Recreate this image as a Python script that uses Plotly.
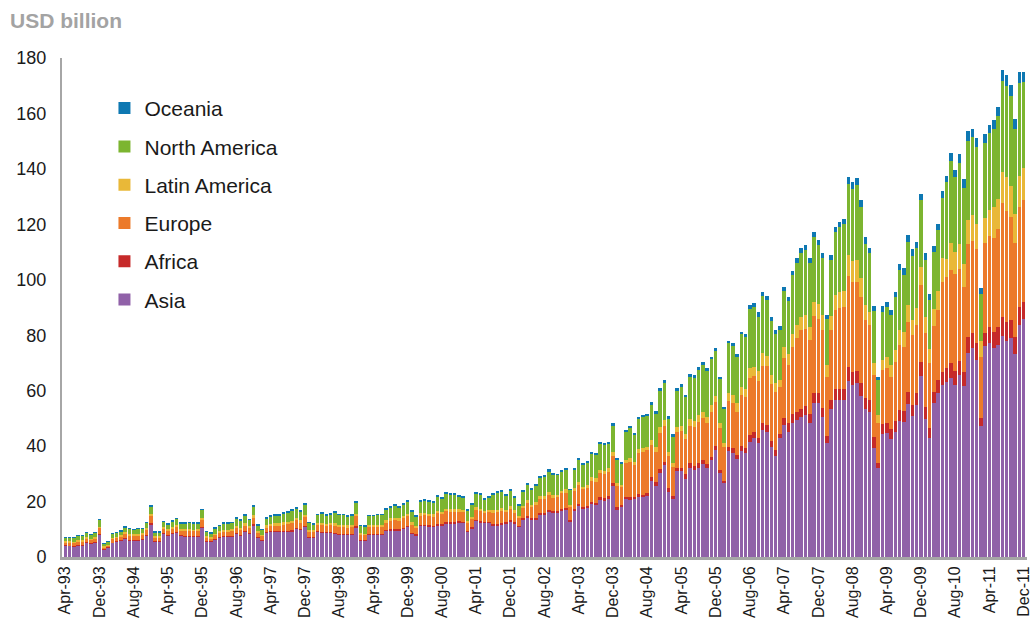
import plotly.graph_objects as go
import pandas as pd

# Monthly categories Apr-93 .. Dec-11 (225 months)
months = list(pd.date_range("1993-04-01", periods=225, freq="MS").strftime("%b-%y"))
tick_labels = months[::8]

asia = [
    4.1, 4.0, 3.8, 4.2, 4.1, 5.2, 4.8, 5.2, 8.1, 2.8,
    3.4, 5.1, 5.5, 5.8, 6.6, 6.1, 6.1, 6.1, 6.4, 7.9,
    11.8, 5.5, 5.5, 8.5, 7.9, 8.3, 8.8, 7.6, 7.3, 7.3,
    7.3, 7.3, 10.7, 5.5, 5.5, 6.3, 7.0, 7.3, 7.3, 7.3,
    8.5, 7.6, 9.1, 8.5, 11.5, 7.0, 6.1, 8.8, 9.1, 9.1,
    9.1, 9.1, 9.1, 9.3, 10.3, 9.9, 11.0, 7.1, 7.1, 9.1,
    8.9, 8.9, 8.9, 8.5, 8.1, 8.1, 8.1, 8.1, 10.7, 5.9,
    5.9, 8.1, 8.1, 8.1, 8.1, 9.5, 9.7, 9.7, 9.7, 10.3,
    10.9, 8.5, 7.9, 11.2, 11.2, 11.0, 10.9, 11.5, 11.5, 12.1,
    12.1, 12.1, 12.4, 12.4, 9.1, 10.3, 13.0, 12.4, 12.4, 12.4,
    11.5, 11.5, 11.8, 12.1, 12.8, 12.2, 10.9, 13.4, 14.3, 13.4,
    13.6, 15.2, 15.2, 16.3, 15.7, 16.0, 16.6, 17.0, 12.7, 16.6,
    18.4, 17.6, 17.8, 19.1, 18.8, 20.6, 20.3, 21.0, 25.6, 17.2,
    17.9, 20.8, 20.6, 20.8, 21.8, 21.5, 22.0, 27.5, 25.7, 30.4,
    33.2, 23.6, 20.9, 31.0, 31.0, 28.3, 32.2, 31.4, 32.2, 33.5,
    32.0, 35.0, 38.6, 30.2, 26.6, 38.4, 37.4, 35.2, 38.4, 37.4,
    41.6, 42.8, 41.0, 45.8, 45.2, 39.6, 36.4, 42.8, 47.6, 45.2,
    48.5, 49.4, 50.4, 51.2, 48.5, 55.7, 55.7, 50.4, 41.0, 53.4,
    56.6, 56.6, 56.6, 63.6, 62.0, 62.7, 58.1, 53.3, 52.4, 39.2,
    32.0, 44.4, 44.9, 42.5, 45.2, 49.2, 48.8, 55.2, 50.9, 54.8,
    65.3, 49.7, 42.8, 55.4, 59.3, 62.1, 63.0, 64.5, 62.0, 65.6,
    61.7, 73.5, 75.3, 71.1, 47.3, 76.1, 77.3, 75.3, 76.5, 79.7,
    78.0, 78.9, 73.2, 83.7, 85.7]

africa = [
    0.1, 0.1, 0.1, 0.2, 0.2, 0.2, 0.1, 0.2, 0.2, 0.1,
    0.1, 0.1, 0.2, 0.2, 0.2, 0.2, 0.2, 0.2, 0.2, 0.2,
    0.3, 0.2, 0.2, 0.2, 0.2, 0.2, 0.2, 0.2, 0.2, 0.2,
    0.2, 0.2, 0.3, 0.2, 0.1, 0.2, 0.2, 0.2, 0.2, 0.2,
    0.2, 0.2, 0.2, 0.2, 0.3, 0.2, 0.2, 0.2, 0.2, 0.2,
    0.2, 0.3, 0.3, 0.3, 0.3, 0.3, 0.3, 0.2, 0.2, 0.2,
    0.3, 0.3, 0.3, 0.3, 0.3, 0.3, 0.3, 0.3, 0.4, 0.2,
    0.2, 0.3, 0.3, 0.3, 0.3, 0.3, 0.3, 0.3, 0.3, 0.3,
    0.4, 0.3, 0.3, 0.4, 0.4, 0.4, 0.4, 0.5, 0.4, 0.5,
    0.5, 0.5, 0.5, 0.4, 0.4, 0.4, 0.5, 0.5, 0.4, 0.4,
    0.5, 0.5, 0.5, 0.5, 0.5, 0.4, 0.4, 0.5, 0.6, 0.5,
    0.6, 0.6, 0.6, 0.7, 0.9, 0.6, 0.6, 0.6, 0.7, 0.6,
    0.7, 0.6, 0.6, 0.9, 0.8, 0.9, 0.9, 1.0, 1.0, 0.7,
    0.9, 1.0, 0.9, 1.0, 0.9, 0.9, 1.0, 1.2, 1.5, 1.3,
    1.2, 1.2, 1.1, 1.2, 1.2, 1.6, 1.6, 1.4, 1.6, 1.5,
    1.5, 1.2, 1.4, 1.2, 0.9, 1.4, 1.8, 1.6, 1.6, 1.8,
    2.4, 2.4, 2.0, 2.4, 2.4, 2.4, 2.2, 1.6, 2.7, 3.0,
    3.1, 3.0, 2.9, 3.3, 3.1, 3.4, 3.4, 3.2, 2.7, 3.2,
    4.1, 4.1, 4.1, 4.8, 4.9, 4.5, 4.6, 3.9, 4.2, 4.0,
    2.0, 3.6, 3.6, 3.6, 4.0, 3.8, 4.0, 4.4, 3.9, 4.2,
    5.2, 4.5, 3.6, 4.2, 4.6, 4.8, 5.0, 5.4, 5.2, 5.2,
    5.2, 5.8, 5.4, 6.0, 2.7, 4.8, 5.8, 6.0, 6.3, 7.0,
    6.9, 6.6, 6.3, 6.4, 6.4]

europe = [
    1.1, 1.2, 1.2, 1.3, 1.4, 1.4, 1.3, 1.4, 2.2, 0.7,
    0.8, 1.3, 1.3, 1.4, 1.7, 1.6, 1.5, 1.6, 1.5, 1.8,
    2.8, 1.3, 1.4, 1.6, 1.5, 1.7, 1.9, 1.8, 1.9, 2.0,
    1.9, 1.9, 2.6, 1.3, 1.2, 1.5, 1.6, 1.8, 1.8, 1.9,
    1.9, 2.0, 2.2, 1.8, 2.6, 1.6, 1.4, 1.8, 2.0, 2.2,
    2.2, 2.4, 2.6, 2.7, 2.7, 2.4, 3.0, 2.0, 1.8, 2.3,
    2.4, 2.2, 2.4, 2.7, 2.6, 2.7, 2.4, 2.5, 3.6, 2.0,
    1.9, 2.5, 2.5, 2.7, 2.6, 2.8, 3.1, 3.3, 3.1, 3.3,
    3.5, 3.0, 2.5, 3.3, 3.4, 3.4, 3.3, 3.8, 3.5, 3.9,
    3.8, 3.8, 3.5, 3.4, 2.8, 3.2, 3.6, 3.7, 3.1, 3.4,
    4.0, 4.2, 4.3, 3.7, 4.1, 3.4, 2.9, 3.8, 4.5, 4.1,
    4.5, 5.0, 5.1, 5.4, 4.8, 4.9, 5.8, 5.6, 4.5, 6.7,
    6.9, 6.2, 6.6, 7.5, 7.6, 8.7, 8.7, 8.8, 9.8, 7.7,
    6.3, 12.0, 12.9, 11.4, 14.9, 15.6, 15.6, 11.7, 10.8, 13.2,
    12.9, 11.6, 10.3, 13.0, 13.3, 12.5, 13.5, 14.2, 15.0, 15.0,
    15.0, 16.2, 16.0, 15.0, 12.3, 16.6, 16.5, 15.6, 18.4, 18.4,
    20.5, 20.0, 20.5, 20.7, 21.3, 20.4, 21.0, 16.8, 21.4, 21.1,
    24.3, 26.5, 28.6, 27.6, 26.7, 27.8, 26.6, 28.3, 21.4, 25.3,
    28.4, 29.0, 29.4, 33.0, 32.4, 32.1, 31.2, 28.3, 27.1, 22.5,
    14.5, 19.5, 19.6, 19.0, 21.3, 23.5, 23.1, 25.3, 25.3, 24.7,
    27.6, 26.5, 23.7, 23.7, 25.2, 32.4, 33.0, 33.6, 34.8, 33.0,
    30.4, 33.6, 33.4, 33.9, 22.3, 32.5, 32.7, 33.7, 35.4, 40.9,
    40.0, 37.0, 33.6, 36.0, 36.7]

latin_america = [
    0.3, 0.3, 0.3, 0.4, 0.3, 0.4, 0.3, 0.4, 0.4, 0.2,
    0.2, 0.3, 0.3, 0.4, 0.6, 0.5, 0.4, 0.5, 0.4, 0.5,
    0.5, 0.4, 0.3, 0.5, 0.5, 0.6, 0.6, 0.5, 0.6, 0.6,
    0.5, 0.6, 0.6, 0.4, 0.3, 0.4, 0.5, 0.6, 0.6, 0.6,
    0.6, 0.6, 0.7, 0.6, 0.6, 0.5, 0.4, 0.6, 0.6, 0.7,
    0.7, 0.7, 0.8, 0.8, 0.8, 0.7, 0.8, 0.5, 0.5, 0.6,
    0.7, 0.6, 0.6, 0.7, 0.7, 0.6, 0.6, 0.6, 0.8, 0.5,
    0.4, 0.6, 0.6, 0.6, 0.7, 0.7, 0.8, 0.8, 0.8, 0.8,
    0.8, 0.7, 0.6, 0.8, 0.8, 0.8, 0.8, 0.9, 0.8, 0.9,
    0.9, 0.9, 0.8, 0.8, 0.6, 0.7, 0.8, 0.8, 0.7, 0.8,
    0.9, 0.9, 1.0, 0.8, 0.9, 0.8, 0.6, 0.8, 1.0, 0.9,
    1.0, 1.1, 1.1, 1.2, 0.9, 0.9, 0.9, 1.2, 0.9, 0.9,
    1.2, 1.0, 1.0, 1.2, 1.2, 1.2, 1.2, 1.2, 1.6, 1.0,
    0.9, 1.2, 1.2, 1.2, 1.2, 1.4, 1.2, 1.8, 1.8, 1.9,
    2.1, 1.6, 1.5, 1.6, 1.8, 2.0, 2.4, 2.2, 2.4, 2.4,
    2.1, 2.4, 2.1, 2.1, 1.4, 2.9, 2.7, 3.0, 3.0, 3.0,
    3.6, 3.5, 3.6, 4.6, 3.6, 3.3, 3.3, 2.5, 3.9, 3.9,
    4.6, 4.8, 4.8, 5.2, 4.8, 5.2, 5.6, 5.4, 4.2, 5.0,
    5.4, 6.0, 6.0, 7.5, 7.6, 7.9, 6.6, 5.4, 4.8, 4.2,
    2.7, 3.6, 4.2, 4.2, 4.2, 5.4, 5.4, 6.0, 5.4, 6.0,
    6.6, 6.0, 4.8, 6.0, 7.0, 8.4, 6.5, 9.7, 8.0, 9.1,
    8.4, 8.7, 9.3, 9.1, 5.7, 8.8, 9.4, 11.4, 10.8, 11.4,
    12.3, 11.3, 10.6, 11.3, 11.4]

north_america = [
    1.3, 1.4, 1.5, 1.6, 1.7, 1.6, 1.6, 1.7, 2.6, 1.0,
    1.0, 1.6, 1.5, 1.5, 1.6, 1.7, 1.7, 1.7, 1.6, 2.0,
    2.9, 1.5, 1.5, 1.9, 1.8, 2.0, 2.3, 2.1, 2.2, 2.3,
    2.3, 2.2, 2.9, 1.7, 1.5, 1.9, 2.0, 2.3, 2.3, 2.4,
    2.7, 2.8, 2.9, 2.3, 3.1, 2.2, 1.8, 2.4, 2.7, 2.9,
    2.9, 3.2, 3.4, 3.6, 3.5, 3.2, 3.8, 2.5, 2.2, 3.0,
    3.4, 2.9, 3.3, 3.8, 3.5, 3.5, 3.1, 3.4, 4.2, 2.6,
    2.5, 3.3, 3.3, 3.5, 3.5, 3.7, 4.1, 4.3, 4.1, 4.3,
    4.3, 3.8, 3.2, 4.2, 4.4, 4.4, 4.4, 5.3, 4.9, 5.5,
    5.3, 5.2, 4.8, 4.6, 3.8, 4.4, 5.0, 5.2, 4.2, 4.6,
    5.6, 6.0, 6.1, 5.2, 5.6, 4.6, 3.9, 5.0, 5.9, 5.4,
    6.0, 6.7, 7.0, 7.4, 7.5, 7.2, 6.9, 7.0, 5.4, 6.6,
    7.8, 7.8, 8.0, 8.7, 8.6, 9.6, 9.3, 9.0, 9.6, 8.4,
    7.8, 10.2, 10.8, 9.9, 11.2, 11.0, 11.1, 12.6, 11.8, 13.1,
    13.3, 11.8, 9.6, 13.1, 14.0, 13.2, 15.4, 15.5, 16.3, 16.9,
    16.6, 16.5, 16.3, 15.6, 12.2, 17.8, 17.7, 16.9, 18.9, 18.6,
    21.4, 21.6, 19.6, 20.7, 20.2, 19.3, 17.6, 18.3, 20.2, 19.2,
    21.2, 22.3, 22.9, 23.5, 22.8, 23.4, 21.3, 20.5, 16.5, 20.3,
    22.7, 23.4, 24.0, 25.7, 25.9, 27.0, 25.9, 22.0, 21.1, 18.9,
    12.7, 17.4, 18.0, 18.0, 19.2, 21.6, 20.4, 22.9, 23.1, 21.7,
    24.1, 20.5, 17.8, 20.9, 21.9, 21.9, 27.6, 29.8, 27.0, 29.4,
    27.3, 28.6, 28.0, 27.7, 16.9, 27.0, 27.6, 27.9, 30.1, 32.7,
    32.7, 32.5, 30.6, 33.5, 31.3]

oceania = [
    0.1, 0.1, 0.1, 0.1, 0.1, 0.1, 0.1, 0.1, 0.1, 0.1,
    0.1, 0.1, 0.1, 0.1, 0.2, 0.2, 0.2, 0.2, 0.2, 0.2,
    0.2, 0.2, 0.2, 0.2, 0.2, 0.2, 0.2, 0.2, 0.2, 0.2,
    0.2, 0.2, 0.2, 0.2, 0.2, 0.2, 0.2, 0.2, 0.2, 0.2,
    0.3, 0.3, 0.3, 0.3, 0.3, 0.3, 0.2, 0.3, 0.3, 0.3,
    0.3, 0.3, 0.3, 0.3, 0.3, 0.3, 0.3, 0.3, 0.3, 0.3,
    0.3, 0.3, 0.3, 0.3, 0.3, 0.3, 0.3, 0.3, 0.3, 0.3,
    0.3, 0.3, 0.3, 0.3, 0.3, 0.4, 0.4, 0.4, 0.4, 0.4,
    0.4, 0.4, 0.3, 0.4, 0.4, 0.4, 0.4, 0.4, 0.4, 0.5,
    0.5, 0.5, 0.4, 0.4, 0.3, 0.4, 0.4, 0.4, 0.4, 0.4,
    0.5, 0.5, 0.5, 0.4, 0.5, 0.4, 0.4, 0.4, 0.5, 0.5,
    0.5, 0.6, 0.6, 0.6, 0.6, 0.3, 0.3, 0.6, 0.2, 0.6,
    0.6, 0.6, 0.6, 0.6, 0.4, 0.6, 0.6, 0.6, 0.6, 0.6,
    0.5, 0.6, 0.9, 0.6, 0.6, 0.8, 0.7, 1.2, 1.2, 1.2,
    1.2, 1.1, 1.0, 1.1, 1.1, 0.8, 0.9, 1.0, 0.9, 0.9,
    0.9, 1.0, 1.0, 1.0, 0.8, 0.9, 1.0, 0.9, 1.0, 1.1,
    1.4, 1.5, 1.5, 1.5, 1.5, 1.5, 1.4, 1.4, 1.5, 1.5,
    1.6, 1.7, 1.8, 1.8, 1.8, 1.9, 1.8, 1.8, 1.5, 1.7,
    1.8, 1.9, 1.9, 2.4, 2.4, 2.4, 2.2, 2.4, 2.0, 1.8,
    1.2, 2.1, 1.8, 1.8, 1.8, 2.2, 2.4, 2.4, 2.4, 2.4,
    2.2, 2.4, 2.2, 2.1, 2.1, 2.6, 2.5, 2.9, 2.6, 3.0,
    3.2, 3.5, 3.0, 3.2, 2.0, 3.4, 3.0, 3.3, 3.1, 4.0,
    4.0, 4.0, 3.6, 4.2, 3.6]

series = [
    ("Asia", asia, "#9061a8"),
    ("Africa", africa, "#c62a2a"),
    ("Europe", europe, "#ec7a2a"),
    ("Latin America", latin_america, "#e9b838"),
    ("North America", north_america, "#7cb530"),
    ("Oceania", oceania, "#0e78b2"),
]

for name, vals, _ in series:
    if len(vals) != len(months):
        raise ValueError(f"{name}: {len(vals)} values vs {len(months)} months")

FONT = "Liberation Sans, Arial, sans-serif"

fig = go.Figure()
n = len(series)
for k, (name, vals, color) in enumerate(series):
    fig.add_trace(go.Bar(
        x=months, y=vals, name=name, legendgroup=name,
        legendrank=n - k,
        marker=dict(color=color, line=dict(width=0)),
    ))

fig.update_layout(
    barmode="stack",
    bargap=0.18,
    width=1033, height=625,
    margin=dict(l=62, r=6, t=58, b=68),
    paper_bgcolor="white", plot_bgcolor="white",
    font=dict(family=FONT, color="#1a1a1a"),
    showlegend=True,
    legend=dict(
        x=0.044, y=0.94, xanchor="left", yanchor="top",
        traceorder="grouped", tracegroupgap=8,
        font=dict(size=21, family=FONT, color="#1a1a1a"),
        bgcolor="rgba(0,0,0,0)", itemwidth=30,
    ),
    annotations=[dict(
        text="<b>USD billion</b>", xref="paper", yref="paper",
        x=-0.056, y=1.076, xanchor="left", yanchor="middle",
        showarrow=False, font=dict(size=21, family=FONT, color="#a3a3a3"),
    )],
)

fig.update_xaxes(
    type="category", automargin=False,
    range=[-0.77, 224.77],
    tickmode="array", tickvals=tick_labels, ticktext=tick_labels,
    tickangle=-90, tickfont=dict(size=16, family=FONT, color="#1a1a1a"),
    showgrid=False, showline=True, linecolor="#a6a6a6", linewidth=3,
    ticks="", zeroline=False,
)
fig.update_yaxes(
    range=[0, 180], tickmode="array", tickvals=list(range(0, 181, 20)),
    automargin=False,
    tickfont=dict(size=18, family=FONT, color="#1a1a1a"),
    showgrid=False, showline=True, linecolor="#a6a6a6", linewidth=2,
    ticks="", zeroline=False, ticklabelstandoff=10,
)

fig.write_html(
    "out.html",
    config={"displayModeBar": False},
    post_script="document.body.style.margin='0px';document.body.style.overflow='hidden';",
)
